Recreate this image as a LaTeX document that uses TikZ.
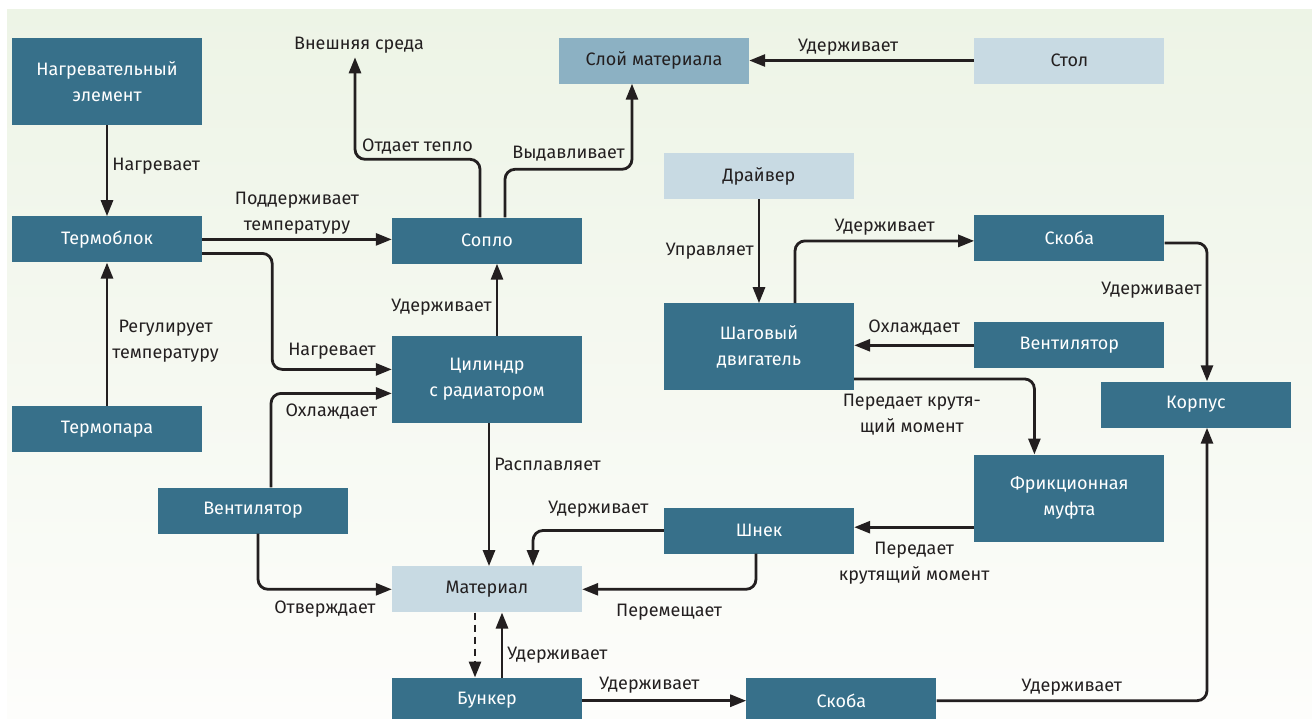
\documentclass[tikz,border=0pt]{standalone}
\usepackage{fontspec}
\setmainfont{Fira Sans}
\usetikzlibrary{positioning,arrows.meta}
\definecolor{boxDark}{RGB}{55,112,138}
\definecolor{boxLight}{RGB}{200,218,227}
\definecolor{boxMid}{RGB}{140,177,195}
\definecolor{inkDark}{RGB}{35,31,32}
\definecolor{bgTop}{RGB}{237,244,230}
\definecolor{bgBottom}{RGB}{253,253,251}

\begin{document}
\begin{tikzpicture}[
    x=1pt, y=-1pt,
    box/.style={minimum width=190pt, minimum height=46pt, inner sep=0pt, align=center,
                font=\fontsize{18}{26}\selectfont},
    darkBox/.style={box, fill=boxDark, text=white},
    lightBox/.style={box, fill=boxLight, text=inkDark},
    layerBox/.style={box, fill=boxMid, text=inkDark},
    tall/.style={minimum height=87pt},
    edgeText/.style={font=\fontsize{18}{26}\selectfont, text=inkDark, inner sep=4pt, align=center},
    arrow/.style={-{Triangle[length=16pt,width=12pt]}, line width=2.8pt, draw=inkDark, rounded corners=10pt}
]
\useasboundingbox (0,0) rectangle (1312,718);
\fill[top color=bgTop, bottom color=bgBottom] (7,9) rectangle (1312,718);

% left column
\node[darkBox, tall] (heater) at (107,81.5) {Нагревательный\\элемент};
\node[darkBox, below=91pt of heater] (thermoblock) {Термоблок};
\node[darkBox, below=143pt of thermoblock] (thermocouple) {Термопара};
\node[darkBox] (fanLeft) at (253,510.5) {Вентилятор};

% middle column
\node[edgeText] (outside) at (359,45) {Внешняя среда};
\node[darkBox] (nozzle) at (487,240.5) {Сопло};
\node[darkBox, tall, below=72pt of nozzle] (cylinder) {Цилиндр\\с радиатором};
\node[lightBox, below=143pt of cylinder] (material) {Материал};
\node[darkBox, below=65pt of material] (hopper) {Бункер};
\node[darkBox, right=164pt of hopper] (bracketLow) {Скоба};

% right part
\node[layerBox] (layer) at (654,60.5) {Слой материала};
\node[lightBox, right=225pt of layer] (table) {Стол};
\node[lightBox] (driver) at (759,176) {Драйвер};
\node[darkBox, tall, below=104pt of driver] (stepper) {Шаговый\\двигатель};
\node[darkBox, below=131pt of table] (bracketUp) {Скоба};
\node[darkBox, below=61pt of bracketUp] (fanRight) {Вентилятор};
\node[darkBox, tall, below=86pt of fanRight] (clutch) {Фрикционная\\муфта};
\node[darkBox] (housing) at (1196,404.5) {Корпус};
\node[darkBox] (auger) at (759,530.5) {Шнек};

% heating chain
\draw[arrow] (heater.south) -- node[edgeText, right, pos=0.45] {Нагревает} (thermoblock.north);
\draw[arrow] (thermocouple.north) -- node[edgeText, right, pos=0.45] {Регулирует\\температуру} (thermoblock.south);
\draw[arrow] (thermoblock.east) -- node[edgeText, above, pos=0.5] {Поддерживает\\температуру} (thermoblock.east -| nozzle.west);
\draw[arrow] ([yshift=-14pt]thermoblock.east) -- ++(70,0) |- node[edgeText, above, pos=0.75, yshift=5pt] {Нагревает} ([yshift=10pt]cylinder.west);
\draw[arrow] ([xshift=18pt]fanLeft.north) |- node[edgeText, below, pos=0.75, yshift=-5pt] {Охлаждает} ([yshift=-14pt]cylinder.west);
\draw[arrow] ([xshift=5pt]fanLeft.south) |- node[edgeText, below, pos=0.75, yshift=-6pt] {Отверждает} (material.west);
\draw[arrow] ([xshift=10pt]cylinder.north) -- node[edgeText, left, pos=0.4] {Удерживает} ([xshift=10pt]nozzle.south);
\draw[arrow] ([xshift=-7pt]nozzle.north) -- ++(0,-58) -| node[edgeText, above, pos=0.25] {Отдает тепло} ([xshift=-4pt]outside.south);
\draw[arrow] ([xshift=18pt]nozzle.north) -- ++(0,-48) -| node[edgeText, above, pos=0.25, yshift=3pt] {Выдавливает} ([xshift=-22pt]layer.south);
\draw[arrow] (table.west) -- node[edgeText, above, pos=0.56] {Удерживает} (layer.east);

% drive chain
\draw[arrow] (driver.south) -- node[edgeText, left, pos=0.5] {Управляет} (stepper.north);
\draw[arrow] ([xshift=36pt]stepper.north) |- node[edgeText, above, pos=0.75] {Удерживает} ([yshift=-3pt]bracketUp.west);
\draw[arrow] (fanRight.west) -- node[edgeText, above, pos=0.5, yshift=5pt] {Охлаждает} (fanRight.west -| stepper.east);
\draw[arrow] ([yshift=-32pt]stepper.east) -| node[edgeText, below, pos=0.16, yshift=-10pt] {Передает крутя-\\щий момент} ([xshift=-35pt]clutch.north);
\draw[arrow] ([yshift=-5pt]bracketUp.east) -| node[edgeText, left, pos=0.67] {Удерживает} ([xshift=11pt]housing.north);
\draw[arrow] ([yshift=-29pt]clutch.west) -- node[edgeText, below, pos=0.5, yshift=-9pt] {Передает\\крутящий момент} ([yshift=-29pt]clutch.west -| auger.east);
\draw[arrow] (auger.west) -| node[edgeText, above, pos=0.25, yshift=8pt] {Удерживает} ([xshift=46pt]material.north);
\draw[arrow] ([xshift=-3pt]auger.south) |- node[edgeText, below, pos=0.75, yshift=-9pt] {Перемещает} (material.east);
\draw[arrow] ([xshift=2pt]cylinder.south) -- node[edgeText, right, pos=0.29] {Расплавляет} ([xshift=2pt]material.north);

% hopper and frame
\draw[arrow, dash pattern=on 7pt off 5pt, rounded corners=0pt] ([xshift=-12pt]material.south) -- ([xshift=-12pt]hopper.north);
\draw[arrow] ([xshift=15pt]hopper.north) -- node[edgeText, right, pos=0.35] {Удерживает} ([xshift=15pt]material.south);
\draw[arrow] (hopper.east) -- node[edgeText, above, pos=0.41, yshift=2pt] {Удерживает} (bracketLow.west);
\draw[arrow] (bracketLow.east) -| node[edgeText, above, pos=0.25] {Удерживает} ([xshift=11pt]housing.south);
\end{tikzpicture}
\end{document}
